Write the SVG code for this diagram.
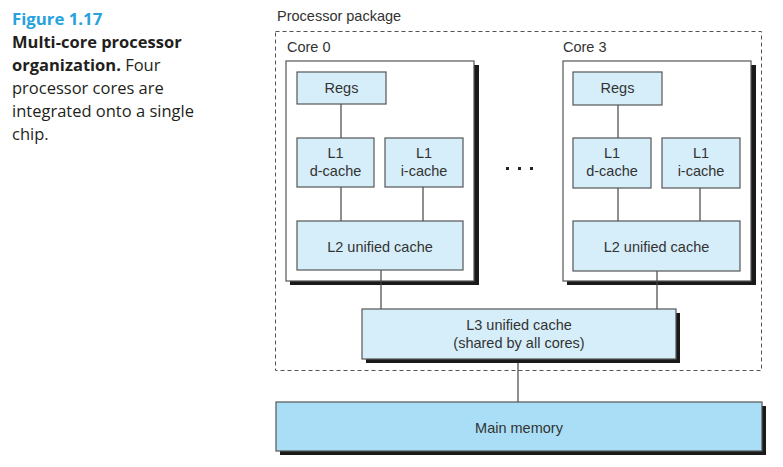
<svg xmlns="http://www.w3.org/2000/svg" width="783" height="467" viewBox="0 0 783 467">
<style>
.cap{font-family:"Open Sans","Noto Sans",sans-serif;font-size:16.5px;fill:#231f20}
.capb{font-weight:bold}
.fig{font-family:"Open Sans","Noto Sans",sans-serif;font-size:16.8px;font-weight:bold;fill:#27a2dc}
.lbl{font-family:"Liberation Sans",Arial,sans-serif;font-size:14.5px;fill:#333}
.ctr{text-anchor:middle}
.box{fill:#d6eef9;stroke:#555;stroke-width:1.2}
.mem{fill:#a9def6;stroke:#555;stroke-width:1.2}
.core{fill:#fff;stroke:#555;stroke-width:1.2}
.sh{fill:#1a1a1a}
.ln{stroke:#444;stroke-width:1.2;fill:none}
</style>
<rect width="783" height="467" fill="#fff"/>
<g id="caption">
<text class="fig" x="12" y="25">Figure 1.17</text>
<text class="cap capb" x="12" y="48">Multi-core processor</text>
<text class="cap" x="12" y="71"><tspan class="capb">organization.</tspan> Four</text>
<text class="cap" x="12" y="94">processor cores are</text>
<text class="cap" x="12" y="117">integrated onto a single</text>
<text class="cap" x="12" y="140">chip.</text>
</g>
<g id="package">
<text class="lbl" x="277" y="21">Processor package</text>
<rect x="275.5" y="31.5" width="486" height="339" fill="none" stroke="#555" stroke-width="1" stroke-dasharray="4,3"/>
</g>
<g id="core0">
<text class="lbl" x="287" y="52">Core 0</text>
<rect class="sh" x="290" y="65" width="189" height="220"/>
<rect class="core" x="286" y="61" width="188" height="220"/>
</g>
<g id="core3">
<text class="lbl" x="563" y="52">Core 3</text>
<rect class="sh" x="567" y="65" width="189" height="220"/>
<rect class="core" x="563" y="61" width="188" height="220"/>
</g>
<g id="connectors">
<line class="ln" x1="341" y1="104" x2="341" y2="138"/>
<line class="ln" x1="341" y1="187" x2="341" y2="221"/>
<line class="ln" x1="423" y1="187" x2="423" y2="221"/>
<line class="ln" x1="381" y1="270" x2="381" y2="309"/>
<line class="ln" x1="618" y1="105" x2="618" y2="138"/>
<line class="ln" x1="618" y1="188" x2="618" y2="221"/>
<line class="ln" x1="700" y1="188" x2="700" y2="221"/>
<line class="ln" x1="657" y1="271" x2="657" y2="309"/>
<line class="ln" x1="518" y1="359" x2="518" y2="402"/>
</g>
<g id="core0-regs"><rect class="box" x="297" y="72" width="89" height="32"/><text class="lbl ctr" x="341.5" y="93">Regs</text></g>
<g id="core0-l1d"><rect class="box" x="297" y="138" width="77" height="49"/><text class="lbl ctr" x="335.5" y="158">L1</text><text class="lbl ctr" x="335.5" y="176">d-cache</text></g>
<g id="core0-l1i"><rect class="box" x="385" y="138" width="78" height="49"/><text class="lbl ctr" x="424" y="158">L1</text><text class="lbl ctr" x="424" y="176">i-cache</text></g>
<g id="core0-l2"><rect class="box" x="297" y="221" width="166" height="49"/><text class="lbl ctr" x="380" y="252">L2 unified cache</text></g>
<g id="dots">
<rect x="506" y="167" width="3" height="3" fill="#222"/>
<rect x="518" y="167" width="3" height="3" fill="#222"/>
<rect x="530" y="167" width="3" height="3" fill="#222"/>
</g>
<g id="core3-regs"><rect class="box" x="573" y="72" width="89" height="33"/><text class="lbl ctr" x="617.5" y="93">Regs</text></g>
<g id="core3-l1d"><rect class="box" x="573" y="138" width="78" height="50"/><text class="lbl ctr" x="612" y="158">L1</text><text class="lbl ctr" x="612" y="176">d-cache</text></g>
<g id="core3-l1i"><rect class="box" x="662" y="138" width="78" height="50"/><text class="lbl ctr" x="701" y="158">L1</text><text class="lbl ctr" x="701" y="176">i-cache</text></g>
<g id="core3-l2"><rect class="box" x="573" y="221" width="167" height="50"/><text class="lbl ctr" x="656.5" y="252">L2 unified cache</text></g>
<g id="l3">
<rect class="sh" x="366" y="313" width="314" height="50"/>
<rect class="box" x="362" y="309" width="314" height="50"/>
<text class="lbl ctr" x="519" y="330">L3 unified cache</text>
<text class="lbl ctr" x="519" y="348">(shared by all cores)</text>
</g>
<g id="main-memory">
<rect class="sh" x="280" y="406" width="486" height="49"/>
<rect class="mem" x="276" y="402" width="486" height="49"/>
<text class="lbl ctr" x="519" y="433">Main memory</text>
</g>
</svg>
